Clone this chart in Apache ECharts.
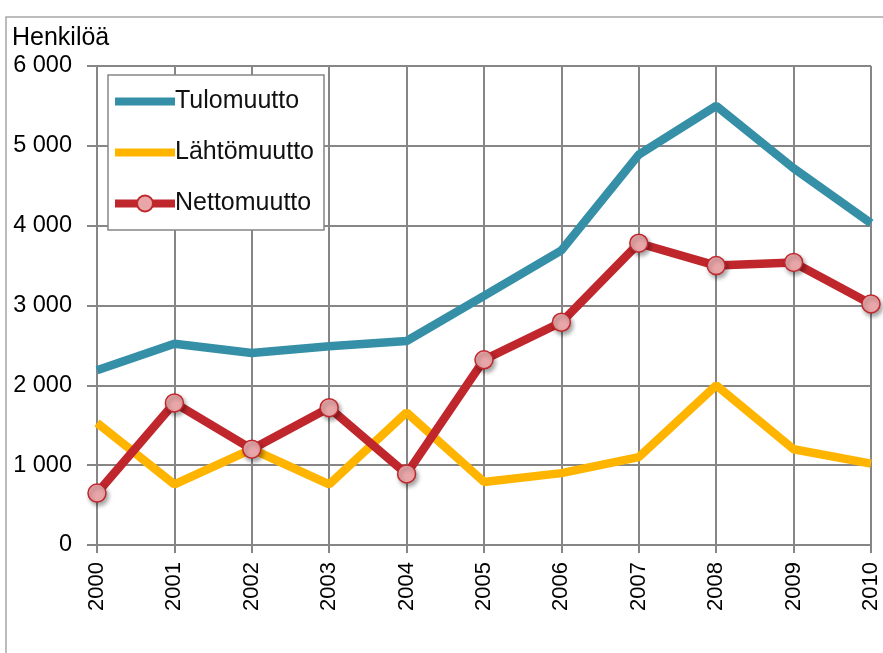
<!DOCTYPE html>
<html>
<head>
<meta charset="utf-8">
<script src="https://cdn.jsdelivr.net/npm/echarts@6/dist/echarts.min.js"></script>
<style>
  html, body { margin: 0; padding: 0; background: #fff; }
  #chart { width: 883px; height: 653px; }
</style>
</head>
<body>
<div id="chart"></div>
<script>
// data
var years = ["2000", "2001", "2002", "2003", "2004", "2005", "2006", "2007", "2008", "2009", "2010"];
var tulomuutto = [2190, 2520, 2405, 2490, 2555, 3120, 3690, 4890, 5500, 4720, 4030];
var lahtomuutto = [1530, 760, 1200, 760, 1660, 790, 900, 1100, 2000, 1200, 1020];
var nettomuutto = [650, 1780, 1200, 1720, 890, 2320, 2790, 3780, 3500, 3540, 3020];

var gridColor = "#868686";
var font = "'Liberation Sans', Arial, sans-serif";

var myChart = echarts.init(document.getElementById("chart"));

var option = {
  backgroundColor: "#fff",
  animation: false,
  title: {
    text: "Henkilöä",
    left: 12,
    top: 26,
    padding: 0,
    textStyle: { fontFamily: font, fontSize: 25, fontWeight: "normal", color: "#000" }
  },
  graphic: [
    {
      type: "polyline",
      shape: { points: [[6, 653], [6, 17], [883, 17]] },
      style: { stroke: "#a6a6a6", lineWidth: 1.5, fill: null }
    }
  ],
  legend: {
    left: 108,
    top: 75,
    orient: "vertical",
    padding: [14, 10, 14, 3],
    itemWidth: 60,
    itemHeight: 20,
    itemGap: 26,
    borderColor: gridColor,
    borderWidth: 1.5,
    backgroundColor: "#fff",
    lineStyle: { width: 8 },
    textStyle: { fontFamily: font, fontSize: 25, color: "#111", padding: [0, 0, 0, -5] },
    data: [
      { name: "Tulomuutto", itemStyle: { opacity: 0 } },
      { name: "Lähtömuutto", itemStyle: { opacity: 0 } },
      { name: "Nettomuutto" }
    ]
  },
  grid: { left: 97, right: 12, top: 66, bottom: 108 },
  xAxis: {
    type: "category",
    data: years,
    boundaryGap: false,
    axisLine: { lineStyle: { color: gridColor, width: 2 } },
    axisTick: { show: true, length: 8, alignWithLabel: true, lineStyle: { color: gridColor, width: 2 } },
    splitLine: { show: true, lineStyle: { color: gridColor, width: 2 } },
    axisLabel: {
      rotate: 90,
      margin: 17,
      fontFamily: font,
      fontSize: 22,
      color: "#000"
    }
  },
  yAxis: {
    type: "value",
    min: 0,
    max: 6000,
    interval: 1000,
    axisLine: { show: true, lineStyle: { color: gridColor, width: 2 } },
    axisTick: { show: true, length: 10, lineStyle: { color: gridColor, width: 2 } },
    splitLine: { show: true, lineStyle: { color: gridColor, width: 2 } },
    axisLabel: {
      margin: 25,
      fontFamily: font,
      fontSize: 23.5,
      color: "#000",
      formatter: function (v) {
        return String(v).replace(/\B(?=(\d{3})+(?!\d))/g, " ");
      }
    }
  },
  series: [
    {
      name: "Tulomuutto",
      type: "line",
      data: tulomuutto,
      symbol: "none",
      color: "#348FA7",
      lineStyle: { width: 8.5, color: "#348FA7" }
    },
    {
      name: "Lähtömuutto",
      type: "line",
      data: lahtomuutto,
      symbol: "none",
      color: "#FFB500",
      lineStyle: { width: 8.5, color: "#FFB500" }
    },
    {
      name: "Nettomuutto",
      type: "line",
      data: nettomuutto,
      symbol: "circle",
      symbolSize: 18,
      color: "#C0272D",
      lineStyle: { width: 8.5, color: "#C0272D" },
      itemStyle: {
        color: "#E8A6A8",
        borderColor: "#C0272D",
        borderWidth: 1.5,
        shadowBlur: 4,
        shadowOffsetX: 2,
        shadowOffsetY: 3,
        shadowColor: "rgba(0,0,0,0.35)"
      }
    }
  ]
};

myChart.setOption(option);
</script>
</body>
</html>
